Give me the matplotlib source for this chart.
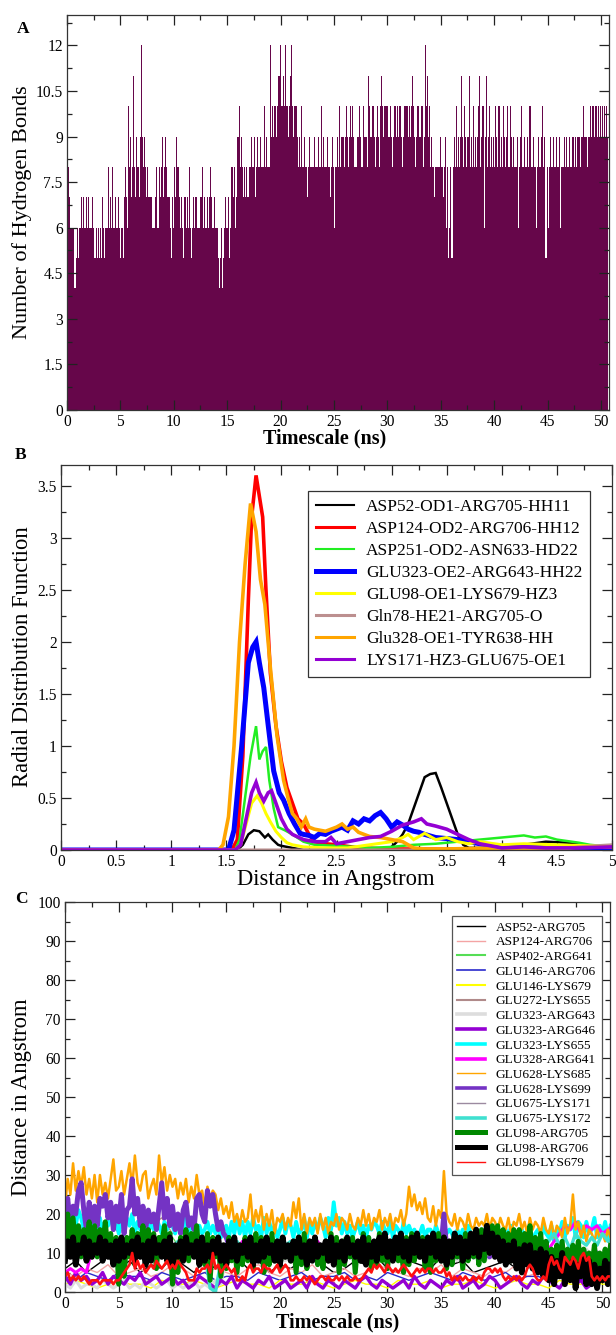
import numpy as np
import matplotlib
matplotlib.use("Agg")
import matplotlib.pyplot as plt
from matplotlib.ticker import MultipleLocator, FuncFormatter

plt.rcParams['font.family'] = ['Liberation Serif', 'DejaVu Serif']

# ---------------- Panel A: hydrogen bonds per frame (0.1 ns bins) ----------------
# one character per 0.1 ns; digits 0-9, a=10, b=11, c=12
hbond_code = (
    "8876666456" "5667676676" "7667655656" "5657656686" "7686676676"
    "5657876a89" "78b879879c" "9898787777" "6678668789" "7898776576"
    "8798876765" "7676865676" "7766678676" "6767876676" "6545645676"
    "6756878679" "9a89878787" "8898897898" "8988a89888" "c9a9aa9abc"
    "aabacaa9ab" "ca9aa9898a" "8898878988" "89888988a8" "9889887898"
    "68898a8998" "9a989a9a98" "889a988a99" "98ba99a989" "a98aba9aaa"
    "a9a989aa9a" "9aa989aaa9" "a9aba989aa" "9aa89cab9a" "8988788889"
    "8878968568" "5898a8989b" "98a989b898" "a8989ab89a" "69b89a8989"
    "8a98a898a9" "89a88a9898" "89689a8898" "898a889886" "89889a8958"
    "6898898898" "8968898988" "9889989899" "899a999899" "a9a9aa9a9a"
    "9a9a9a9"
)
hbond_counts = [int(ch, 16) for ch in hbond_code]

# ---------------- Panel B: radial distribution functions ----------------
rdf_labels = ["ASP52-OD1-ARG705-HH11", "ASP124-OD2-ARG706-HH12", "ASP251-OD2-ASN633-HD22",
              "GLU323-OE2-ARG643-HH22", "GLU98-OE1-LYS679-HZ3", "Gln78-HE21-ARG705-O",
              "Glu328-OE1-TYR638-HH", "LYS171-HZ3-GLU675-OE1"]

r_asp52 = [0, 1.6, 1.65, 1.7, 1.75, 1.8, 1.85, 1.88, 1.92, 1.97, 2.0, 2.1, 2.2, 2.9, 3.0, 3.05, 3.1, 3.15,
           3.2, 3.25, 3.3, 3.35, 3.4, 3.45, 3.5, 3.55, 3.6, 3.65, 3.7, 3.8, 4.0, 4.2, 4.4, 4.6, 4.8, 5.0]
g_asp52 = [0, 0, 0.05, 0.15, 0.19, 0.18, 0.12, 0.15, 0.1, 0.05, 0.04, 0.02, 0.0, 0.0, 0.03, 0.08, 0.15, 0.25,
           0.4, 0.55, 0.7, 0.73, 0.74, 0.6, 0.45, 0.3, 0.15, 0.05, 0.02, 0.02, 0.03, 0.05, 0.08, 0.07, 0.04, 0.02]

r_asp124 = [0, 1.55, 1.6, 1.65, 1.7, 1.73, 1.77, 1.8, 1.83, 1.86, 1.9, 1.95, 2.0, 2.05, 2.1, 2.15, 2.2,
            2.25, 2.3, 2.4, 2.5, 2.7, 3.0, 5.0]
g_asp124 = [0, 0, 0.1, 0.9, 2.4, 3.2, 3.6, 3.4, 3.2, 2.5, 1.7, 1.2, 0.85, 0.6, 0.45, 0.3, 0.25,
            0.15, 0.08, 0.06, 0.05, 0.02, 0.01, 0.0]

r_asp251 = [0, 1.58, 1.62, 1.67, 1.72, 1.77, 1.8, 1.83, 1.86, 1.89, 1.93, 1.97, 2.03, 2.1, 2.2, 2.3, 2.5,
            2.8, 3.0, 3.2, 3.4, 3.6, 3.8, 4.0, 4.2, 4.3, 4.4, 4.5, 4.7, 4.8, 5.0]
g_asp251 = [0, 0, 0.1, 0.5, 0.9, 1.19, 0.87, 0.95, 0.99, 0.67, 0.4, 0.22, 0.19, 0.15, 0.08, 0.05, 0.04,
            0.02, 0.03, 0.05, 0.06, 0.08, 0.1, 0.12, 0.14, 0.12, 0.13, 0.1, 0.07, 0.05, 0.03]

r_glu323 = [0, 1.52, 1.57, 1.64, 1.7, 1.74, 1.77, 1.8, 1.84, 1.88, 1.93, 1.98, 2.02, 2.07, 2.12, 2.17, 2.2,
            2.25, 2.3, 2.35, 2.4, 2.45, 2.5, 2.55, 2.6, 2.65, 2.7, 2.75, 2.8, 2.85, 2.9, 2.95, 3.0, 3.05,
            3.1, 3.15, 3.2, 3.25, 3.3, 3.4, 3.5, 3.6, 3.7, 3.8, 4.0, 4.5, 5.0]
g_glu323 = [0, 0, 0.19, 1.0, 1.8, 1.95, 2.0, 1.8, 1.56, 1.2, 0.76, 0.55, 0.48, 0.35, 0.25, 0.16, 0.15,
            0.14, 0.12, 0.16, 0.15, 0.18, 0.2, 0.22, 0.19, 0.28, 0.25, 0.3, 0.28, 0.33, 0.36, 0.3, 0.22, 0.27,
            0.24, 0.2, 0.18, 0.17, 0.15, 0.12, 0.11, 0.1, 0.08, 0.06, 0.03, 0.02, 0.02]

r_glu98 = [0, 1.58, 1.63, 1.68, 1.73, 1.78, 1.82, 1.86, 1.9, 1.95, 2.0, 2.05, 2.1, 2.2, 2.4, 2.6, 2.8, 3.0,
           3.1, 3.15, 3.2, 3.3, 3.4, 3.5, 3.6, 3.7, 3.8, 4.0, 4.2, 4.5, 4.8, 5.0]
g_glu98 = [0, 0, 0.05, 0.25, 0.45, 0.52, 0.45, 0.35, 0.27, 0.18, 0.12, 0.07, 0.05, 0.03, 0.02, 0.02, 0.05, 0.08,
           0.12, 0.15, 0.1, 0.16, 0.1, 0.12, 0.08, 0.06, 0.08, 0.05, 0.06, 0.05, 0.04, 0.04]

r_gln78 = [0, 4.5, 4.7, 5.0]
g_gln78 = [0, 0.0, 0.03, 0.05]

r_glu328 = [0, 1.43, 1.47, 1.52, 1.57, 1.62, 1.67, 1.72, 1.77, 1.81, 1.85, 1.9, 1.96, 2.02, 2.06, 2.1, 2.14,
            2.18, 2.22, 2.25, 2.3, 2.4, 2.5, 2.55, 2.6, 2.65, 2.7, 2.75, 2.8, 2.9, 3.0, 3.1, 3.2, 3.3, 3.5,
            4.0, 4.5, 5.0]
g_glu328 = [0, 0, 0.05, 0.32, 1.0, 2.0, 2.74, 3.33, 3.06, 2.6, 2.36, 1.75, 1.1, 0.67, 0.5, 0.35, 0.3,
            0.22, 0.3, 0.22, 0.2, 0.18, 0.22, 0.25, 0.2, 0.22, 0.17, 0.15, 0.13, 0.12, 0.1, 0.08, 0.02, 0.01, 0.01,
            0.02, 0.02, 0.03]

r_lys171 = [0, 1.58, 1.63, 1.68, 1.73, 1.77, 1.8, 1.84, 1.88, 1.91, 1.95, 2.0, 2.05, 2.1, 2.2, 2.3, 2.4,
            2.45, 2.5, 2.6, 2.7, 2.8, 2.9, 3.0, 3.1, 3.2, 3.27, 3.32, 3.4, 3.5, 3.6, 3.7, 3.8, 3.9, 4.0,
            4.2, 4.4, 4.7, 5.0]
g_lys171 = [0, 0, 0.05, 0.3, 0.55, 0.65, 0.55, 0.47, 0.55, 0.57, 0.45, 0.3, 0.2, 0.15, 0.1, 0.08, 0.08,
            0.12, 0.06, 0.08, 0.1, 0.12, 0.13, 0.18, 0.24, 0.27, 0.3, 0.25, 0.23, 0.2, 0.15, 0.1, 0.06, 0.04, 0.02,
            0.03, 0.02, 0.02, 0.03]

# ---------------- Panel C: inter-residue distances (Angstrom) ----------------
# quarter-ns sampled series
d_glu628_lys685 = [
    22, 29, 25, 33, 26, 31, 27, 32, 25, 29, 24, 30, 23, 30, 25, 28, 24, 29, 34, 26,
    27, 31, 25, 29, 33, 27, 35, 28, 26, 30, 31, 24, 27, 29, 25, 35, 28, 32, 26, 30,
    27, 29, 24, 28, 25, 29, 23, 27, 24, 30, 25, 26, 22, 27, 24, 26, 25, 21, 24, 20,
    22, 19, 23, 18, 20, 17, 21, 18, 19, 25, 17, 21, 18, 22, 16, 20, 17, 21, 15, 19,
    18, 20, 16, 19, 17, 23, 19, 24, 16, 20, 15, 19, 17, 19, 15, 20, 16, 19, 15, 18,
    17, 20, 16, 19, 18, 16, 20, 17, 16, 19, 17, 21, 17, 20, 16, 19, 18, 21, 16, 19,
    17, 20, 16, 19, 18, 21, 17, 20, 27, 22, 25, 21, 23, 20, 24, 19, 18, 22, 17, 21,
    19, 31, 20, 18, 17, 20, 16, 19, 18, 16, 20, 17, 16, 19, 17, 18, 17, 20, 16, 19,
    18, 16, 19, 17, 16, 19, 15, 18, 17, 20, 16, 18, 15, 19, 16, 18, 17, 15, 19, 16,
    15, 18, 14, 17, 16, 14, 19, 15, 17, 25, 16, 18, 14, 17, 13, 16, 15, 13, 16, 14,
    15, 13, 16, 14]

d_glu628_lys699 = [
    18, 24, 17, 22, 20, 26, 28, 21, 16, 23, 18, 22, 17, 24, 22, 25, 19, 23, 16, 22,
    18, 25, 15, 21, 22, 29, 20, 24, 17, 22, 16, 21, 18, 20, 16, 22, 28, 19, 24, 17,
    22, 16, 20, 15, 21, 23, 17, 19, 16, 24, 25, 20, 18, 26, 22, 25, 20, 16, 18, 15,
    14, 12, 13, 11, 10, 12, 9, 11, 11, 9, 12, 10, 10, 11, 9, 12, 12, 10, 11, 9,
    9, 12, 10, 11, 11, 10, 12, 9, 10, 12, 11, 9, 12, 10, 9, 11, 10, 11, 12, 9,
    11, 9, 10, 12, 10, 12, 9, 11, 12, 10, 11, 9, 9, 11, 12, 10, 10, 12, 9, 11,
    11, 9, 10, 12, 12, 10, 11, 9, 10, 11, 9, 12, 11, 10, 12, 9, 9, 12, 10, 11,
    12, 20, 11, 10, 10, 12, 9, 11, 11, 9, 12, 10, 9, 11, 10, 12, 12, 10, 9, 11,
    10, 12, 11, 9, 11, 9, 10, 12, 9, 11, 12, 10, 10, 12, 9, 11, 8, 10, 7, 9,
    9, 7, 8, 10, 8, 9, 7, 10, 9, 7, 8, 10, 8, 10, 9, 7, 9, 8, 10, 7,
    8, 10, 7, 9]

d_glu323_lys655 = [
    25, 20, 18, 22, 17, 21, 19, 16, 18, 15, 20, 17, 16, 19, 15, 18, 17, 20, 16, 19,
    15, 18, 16, 19, 17, 20, 15, 18, 16, 19, 17, 15, 18, 16, 19, 17, 15, 18, 16, 19,
    17, 15, 18, 16, 16, 19, 15, 17, 18, 16, 17, 15, 16, 18, 15, 17, 15, 17, 14, 16,
    17, 14, 18, 15, 19, 15, 18, 14, 18, 15, 19, 16, 17, 14, 19, 15, 18, 15, 17, 14,
    16, 19, 15, 18, 17, 14, 18, 15, 16, 19, 14, 18, 15, 18, 16, 19, 17, 14, 19, 16,
    23, 17, 19, 15, 18, 15, 17, 14, 16, 18, 15, 17, 14, 17, 16, 18, 17, 15, 18, 16,
    15, 18, 14, 17, 16, 14, 18, 15, 17, 15, 16, 14, 15, 17, 14, 16, 16, 14, 17, 15,
    14, 17, 15, 16, 15, 13, 16, 14, 16, 14, 17, 15, 14, 16, 13, 15, 15, 13, 16, 14,
    14, 16, 13, 15, 16, 14, 17, 13, 15, 13, 16, 14, 14, 16, 13, 15, 16, 14, 17, 15,
    14, 17, 13, 16, 15, 18, 14, 17, 16, 19, 14, 18, 17, 14, 18, 15, 16, 19, 14, 17,
    15, 18, 14, 17]

d_glu98_arg705 = [
    14, 20, 12, 19, 11, 17, 9, 16, 13, 18, 10, 17, 9, 16, 12, 18, 10, 15, 8, 14,
    2, 12, 4, 14, 9, 16, 7, 15, 11, 17, 8, 16, 10, 15, 6, 14, 12, 17, 9, 15,
    2, 11, 5, 14, 10, 16, 8, 15, 11, 17, 9, 14, 7, 15, 3, 14, 9, 13, 4, 12,
    6, 14, 8, 13, 5, 12, 7, 14, 8, 13, 6, 15, 9, 14, 5, 12, 7, 15, 8, 13,
    6, 14, 9, 12, 8, 13, 5, 14, 7, 15, 6, 13, 9, 14, 7, 12, 6, 13, 8, 15,
    8, 14, 5, 13, 7, 12, 9, 14, 5, 13, 8, 15, 9, 14, 6, 12, 7, 15, 8, 13,
    6, 13, 9, 14, 8, 12, 5, 14, 7, 15, 8, 13, 9, 14, 6, 12, 5, 13, 8, 15,
    8, 14, 6, 13, 7, 12, 9, 14, 6, 15, 8, 13, 9, 14, 7, 16, 8, 15, 10, 17,
    11, 17, 9, 16, 10, 15, 8, 16, 9, 16, 11, 15, 10, 17, 8, 14, 9, 15, 7, 13,
    5, 11, 7, 12, 6, 13, 5, 11, 7, 12, 6, 13, 5, 11, 8, 10, 6, 12, 5, 10,
    7, 11, 6, 12]

d_glu98_arg706 = [
    8, 13, 9, 14, 7, 12, 10, 14, 8, 13, 9, 12, 10, 14, 8, 13, 9, 12, 7, 13,
    8, 14, 9, 12, 10, 13, 8, 14, 9, 12, 7, 13, 8, 14, 10, 12, 9, 13, 8, 14,
    7, 12, 9, 13, 8, 14, 10, 12, 9, 13, 7, 14, 8, 12, 9, 13, 10, 14, 8, 12,
    7, 13, 9, 14, 8, 12, 10, 13, 9, 14, 7, 12, 8, 13, 9, 14, 10, 12, 8, 13,
    7, 14, 9, 12, 8, 13, 10, 14, 9, 12, 7, 13, 8, 14, 9, 12, 10, 13, 8, 14,
    7, 12, 9, 13, 8, 14, 10, 12, 9, 13, 8, 14, 7, 12, 9, 13, 8, 14, 10, 15,
    9, 13, 8, 14, 10, 15, 9, 13, 8, 14, 10, 15, 9, 13, 8, 14, 10, 15, 9, 13,
    8, 14, 7, 13, 9, 15, 10, 14, 8, 13, 9, 15, 10, 16, 9, 14, 11, 17, 10, 15,
    9, 14, 8, 13, 7, 12, 8, 13, 6, 11, 5, 12, 7, 12, 6, 10, 5, 11, 4, 10,
    3, 9, 2, 8, 4, 10, 2, 7, 3, 8, 1, 7, 4, 9, 2, 8, 2, 7, 1, 6,
    3, 8, 2, 7]

d_glu98_lys679 = [
    4, 5, 3, 4, 3, 4, 3, 4, 3, 2, 3, 3, 3, 2, 3, 3, 3, 3, 2, 3,
    3, 4, 5, 6, 7, 10, 6, 8, 6, 7, 5, 6, 7, 6, 8, 7, 6, 7, 8, 6,
    7, 6, 8, 7, 6, 5, 3, 3, 3, 6, 5, 6, 6, 7, 5, 10, 6, 7, 5, 6,
    7, 6, 5, 6, 3, 3, 4, 3, 6, 7, 5, 6, 6, 5, 7, 6, 6, 5, 6, 7,
    5, 6, 7, 6, 3, 3, 4, 3, 3, 4, 3, 4, 3, 2, 3, 4, 4, 3, 4, 3,
    3, 4, 3, 4, 3, 4, 3, 3, 4, 3, 3, 4, 5, 6, 5, 7, 6, 7, 6, 5,
    7, 6, 5, 6, 5, 6, 7, 6, 5, 4, 5, 6, 5, 6, 5, 6, 6, 5, 6, 5,
    5, 6, 4, 5, 3, 4, 3, 4, 3, 4, 3, 3, 4, 3, 4, 3, 5, 6, 6, 5,
    6, 5, 6, 4, 3, 4, 3, 4, 3, 4, 3, 4, 6, 7, 6, 4, 3, 3, 4, 3,
    7, 9, 7, 8, 6, 5, 9, 8, 7, 9, 8, 6, 9, 10, 8, 9, 4, 3, 4, 3,
    4, 3, 4, 4]

# half-ns sampled series
d_glu323_arg646 = [4, 2, 5, 3, 4, 2, 3, 5, 2, 4, 3, 2, 4, 3, 5, 2, 3, 4, 2, 3, 4, 2, 3, 1, 2, 4, 3, 2, 1, 3,
                   2, 4, 1, 3, 2, 1, 3, 2, 4, 1, 2, 3, 1, 2, 3, 1, 4, 2, 1, 3, 2, 1, 3, 2, 1, 3, 4, 2, 1, 3,
                   2, 1, 2, 3, 1, 4, 2, 1, 3, 2, 1, 3, 2, 4, 1, 2, 3, 1, 2, 4, 3, 1, 2, 3, 4, 2, 1, 3, 2, 4,
                   3, 2, 1, 3, 4, 2, 3, 1, 2, 3, 4, 2, 3]
d_glu675_lys172 = [11, 13, 10, 12, 11, 14, 12, 10, 13, 11, 12, 10, 11, 13, 12, 10, 11, 13, 10, 12, 11, 13, 12,
                   10, 11, 12, 10, 1, 0, 8, 12, 10, 13, 11, 12, 10, 11, 13, 12, 10, 11, 12, 13, 10, 12, 11,
                   13, 10, 12, 11, 10, 13, 11, 12, 10, 12, 13, 11, 10, 12, 11, 13, 10, 12, 11, 13, 12, 10,
                   11, 13, 10, 12, 11, 12, 10, 13, 11, 12, 10, 11, 13, 12, 10, 11, 12, 13, 11, 12, 10, 13,
                   13, 15, 12, 14, 11, 15, 13, 12, 14, 12, 15, 13, 14]
d_glu328_arg641 = [5, 6, 5, 6, 5, 11, 13, 10, 12, 11, 13, 12, 10, 11, 13, 12, 10, 12, 11, 13, 10, 12, 11, 13,
                   12, 10, 11, 13, 10, 12, 11, 12, 10, 13, 11, 12, 10, 11, 13, 12, 10, 11, 12, 13, 11, 12,
                   10, 13, 11, 12, 10, 12, 13, 11, 10, 12, 11, 13, 10, 12, 11, 13, 12, 10, 11, 13, 10, 12,
                   11, 12, 10, 13, 11, 12, 10, 11, 13, 12, 10, 11, 12, 13, 11, 12, 10, 13, 12, 11, 13, 12,
                   11, 13, 15, 17, 16, 18, 15, 17, 16, 17, 15, 16, 17]
d_glu323_arg643 = [2, 1, 3, 1, 2, 2, 1, 3, 2, 1, 2, 3, 1, 2, 1, 3, 2, 1, 2, 3, 1, 2, 1, 2, 3, 1, 2, 1, 3, 2,
                   9, 10, 8, 11, 9, 10, 8, 9, 11, 10, 9, 8, 10, 11, 9, 10, 8, 9, 10, 11, 9, 8, 10, 9, 11, 10,
                   9, 8, 10, 11, 9, 10, 8, 9, 11, 10, 9, 8, 10, 9, 11, 10, 9, 8, 10, 11, 9, 10, 8, 9, 10, 11,
                   9, 8, 10, 9, 11, 10, 9, 8, 10, 11, 9, 10, 8, 9, 10, 11, 9, 8, 10, 9, 11]

# one-ns sampled series
d_asp52_arg705 = [6, 8, 5, 7, 9, 6, 8, 5, 7, 6, 9, 7, 5, 8, 6, 7, 9, 6, 8, 5, 7, 6, 8, 9, 7, 5, 6, 8, 7, 9,
                  6, 5, 8, 7, 6, 9, 7, 8, 5, 6, 7, 8, 6, 9, 7, 5, 6, 4, 5, 6, 5, 4]
d_asp124_arg706 = [5, 4, 6, 5, 7, 4, 5, 6, 4, 5, 7, 6, 4, 5, 6, 5, 4, 6, 7, 5, 4, 6, 5, 7, 4, 5, 6, 4, 5, 7,
                   6, 5, 4, 6, 5, 7, 4, 6, 5, 4, 6, 5, 7, 4, 5, 6, 5, 4, 6, 5, 4, 5]
d_asp402_arg641 = [12, 10, 13, 11, 14, 12, 10, 13, 11, 12, 14, 10, 12, 11, 13, 10, 12, 14, 11, 13, 10, 12,
                   11, 13, 12, 10, 14, 11, 12, 13, 10, 12, 11, 14, 12, 10, 13, 11, 12, 10, 13, 12, 11, 10,
                   12, 11, 10, 9, 11, 10, 9, 10]
d_glu146_arg706 = [4, 3, 5, 4, 3, 5, 4, 4, 3, 5, 4, 3, 4, 5, 3, 4, 4, 3, 5, 4, 3, 4, 5, 3, 4, 4, 5, 3, 4, 3,
                   5, 4, 3, 4, 5, 4, 3, 5, 4, 3, 4, 5, 3, 4, 4, 3, 5, 4, 3, 4, 3, 4]
d_glu146_lys679 = [2, 3, 2, 1, 2, 3, 2, 2, 1, 3, 2, 2, 3, 2, 1, 2, 3, 2, 2, 1, 3, 2, 2, 3, 2, 1, 2, 3, 2, 2,
                   1, 3, 2, 2, 3, 1, 2, 2, 3, 2, 1, 2, 3, 2, 2, 1, 3, 2, 2, 3, 2, 2]
d_glu272_lys655 = [17, 15, 18, 16, 19, 15, 18, 16, 17, 19, 15, 17, 14, 12, 11, 12, 10, 11, 12, 10, 11, 12,
                   10, 11, 12, 11, 10, 12, 11, 10, 12, 11, 10, 11, 12, 10, 11, 12, 11, 10, 12, 11, 10, 11,
                   10, 9, 10, 11, 9, 10, 9, 10]
d_glu675_lys171 = [10, 11, 9, 12, 10, 11, 9, 10, 12, 11, 9, 10, 11, 12, 10, 9, 11, 10, 12, 9, 10, 11, 12,
                   10, 9, 11, 10, 12, 11, 9, 10, 11, 12, 10, 9, 11, 10, 12, 11, 9, 10, 11, 9, 10, 8, 9, 10,
                   8, 9, 8, 9, 8]

dist_labels = ["ASP52-ARG705", "ASP124-ARG706", "ASP402-ARG641", "GLU146-ARG706", "GLU146-LYS679",
               "GLU272-LYS655", "GLU323-ARG643", "GLU323-ARG646", "GLU323-LYS655", "GLU328-ARG641",
               "GLU628-LYS685", "GLU628-LYS699", "GLU675-LYS171", "GLU675-LYS172", "GLU98-ARG705",
               "GLU98-ARG706", "GLU98-LYS679"]

# ---------------- figure layout ----------------
W, H = 616, 1335
fig = plt.figure(figsize=(W / 100, H / 100), dpi=100)


def rect(l, r, t, b):
    return [l / W, 1 - b / H, (r - l) / W, (b - t) / H]


fmt = FuncFormatter(lambda v, p: f"{v:g}")


def style_axis(ax, xmaj, xmin, ymaj, ymin):
    ax.xaxis.set_major_locator(MultipleLocator(xmaj))
    ax.xaxis.set_minor_locator(MultipleLocator(xmin))
    ax.yaxis.set_major_locator(MultipleLocator(ymaj))
    ax.yaxis.set_minor_locator(MultipleLocator(ymin))
    ax.xaxis.set_major_formatter(fmt)
    ax.yaxis.set_major_formatter(fmt)
    ax.tick_params(which='both', direction='in', top=True, right=True, width=0.9, color='#222222')
    ax.tick_params(which='major', length=7, labelsize=11.2, pad=3)
    ax.tick_params(which='minor', length=3.5)
    for s in ax.spines.values():
        s.set_linewidth(0.9)
        s.set_color('#333333')


# Panel A
axA = fig.add_axes(rect(67, 609, 15, 410))
edges = np.arange(len(hbond_counts) + 1) * 0.1
axA.stairs(hbond_counts, edges, fill=True, color='#66064a', linewidth=0)
axA.set_xlim(0, 50.75)
axA.set_ylim(0, 13)
style_axis(axA, 5, 2.5, 1.5, 0.75)

# Panel B
axB = fig.add_axes(rect(61, 612, 465, 850))
rdf_series = [(r_asp52, g_asp52, 'black', 1.8, 1.5),
              (r_asp124, g_asp124, '#ff0000', 2.6, 2.2),
              (r_asp251, g_asp251, '#22ee22', 1.8, 1.5),
              (r_glu323, g_glu323, '#0000ff', 3.6, 3.6),
              (r_glu98, g_glu98, '#ffff00', 2.2, 2.2),
              (r_gln78, g_gln78, '#bc8f8f', 2.2, 2.2),
              (r_glu328, g_glu328, '#ffa500', 2.6, 2.2),
              (r_lys171, g_lys171, '#9400d3', 2.6, 2.2)]
handles = []
for (xs, ys, c, lw, lwl), lab in zip(rdf_series, rdf_labels):
    axB.plot(xs, ys, color=c, lw=lw, solid_joinstyle='miter')
    handles.append(plt.Line2D([], [], color=c, lw=lwl, label=lab))
axB.set_xlim(0, 5)
axB.set_ylim(0, 3.7)
style_axis(axB, 0.5, 0.25, 0.5, 0.25)
legB = axB.legend(handles=handles, loc='upper left', bbox_to_anchor=((308 - 61) / 551, (850 - 491) / 385),
                  fontsize=12.5, frameon=True, fancybox=False, edgecolor='#333333', framealpha=1,
                  handlelength=2.2, handletextpad=0.7, labelspacing=0.34, borderpad=0.45, borderaxespad=0)
legB.get_frame().set_linewidth(0.9)

# Panel C
axC = fig.add_axes(rect(65, 610, 902, 1292))
quarter = lambda v: np.arange(len(v)) * 0.25
half = lambda v: np.arange(len(v)) * 0.5
whole = lambda v: np.arange(len(v)) * 1.0
dist_series = [
    (d_asp52_arg705, whole, 'black', 1.0, 1.0),
    (d_asp124_arg706, whole, '#f4a4a4', 1.0, 1.0),
    (d_asp402_arg641, whole, '#55dd55', 1.0, 1.5),
    (d_glu146_arg706, whole, '#2a2acc', 1.0, 1.2),
    (d_glu146_lys679, whole, '#ffff00', 1.0, 1.5),
    (d_glu272_lys655, whole, '#b08a8a', 1.0, 1.5),
    (d_glu323_arg643, half, '#dddddd', 2.2, 2.6),
    (d_glu323_arg646, half, '#9400d3', 2.4, 2.6),
    (d_glu323_lys655, quarter, '#00ffff', 2.8, 2.6),
    (d_glu328_arg641, half, '#ff00ff', 2.2, 2.6),
    (d_glu628_lys685, quarter, '#ffa500', 1.8, 1.0),
    (d_glu628_lys699, quarter, '#7433c4', 3.6, 2.6),
    (d_glu675_lys171, whole, '#9c8aa0', 1.0, 1.0),
    (d_glu675_lys172, half, '#40e0d0', 2.4, 2.6),
    (d_glu98_arg705, quarter, '#008800', 3.6, 3.6),
    (d_glu98_arg706, quarter, 'black', 4.2, 3.6),
    (d_glu98_lys679, quarter, '#ff1010', 1.9, 1.0),
]
handlesC = []
for (vals, tgrid, c, lw, lwl), lab in zip(dist_series, dist_labels):
    axC.plot(tgrid(vals), vals, color=c, lw=lw)
    handlesC.append(plt.Line2D([], [], color=c, lw=lwl, label=lab))
axC.set_xlim(0, 50.7)
axC.set_ylim(0, 100)
style_axis(axC, 5, 2.5, 10, 5)
legC = axC.legend(handles=handlesC, loc='upper left', bbox_to_anchor=((452 - 65) / 545, (1292 - 916) / 390),
                  fontsize=9.6, frameon=True, fancybox=False, edgecolor='#555555', framealpha=1,
                  handlelength=2.05, handletextpad=0.85, labelspacing=0.18, borderpad=0.4, borderaxespad=0)
legC.get_frame().set_linewidth(0.9)

# axis titles and panel letters
def ftext(x, y, s, **kw):
    fig.text(x / W, 1 - y / H, s, ha='center', va='center', **kw)

ftext(22, 212, "Number of Hydrogen Bonds", rotation=90, fontsize=16)
ftext(325, 438, "Timescale (ns)", fontsize=14.5, fontweight='bold')
ftext(23, 657, "Radial Distribution Function", rotation=90, fontsize=16.3)
ftext(336, 880, "Distance in Angstrom", fontsize=16.3)
ftext(22, 1097, "Distance in Angstrom", rotation=90, fontsize=16.3)
ftext(338, 1322, "Timescale (ns)", fontsize=14.5, fontweight='bold')
ftext(23, 29, "A", fontsize=12.5, fontweight='bold')
ftext(21, 455, "B", fontsize=12.5, fontweight='bold')
ftext(21, 899, "C", fontsize=12.5, fontweight='bold')

fig.savefig("out.png", dpi=100)
